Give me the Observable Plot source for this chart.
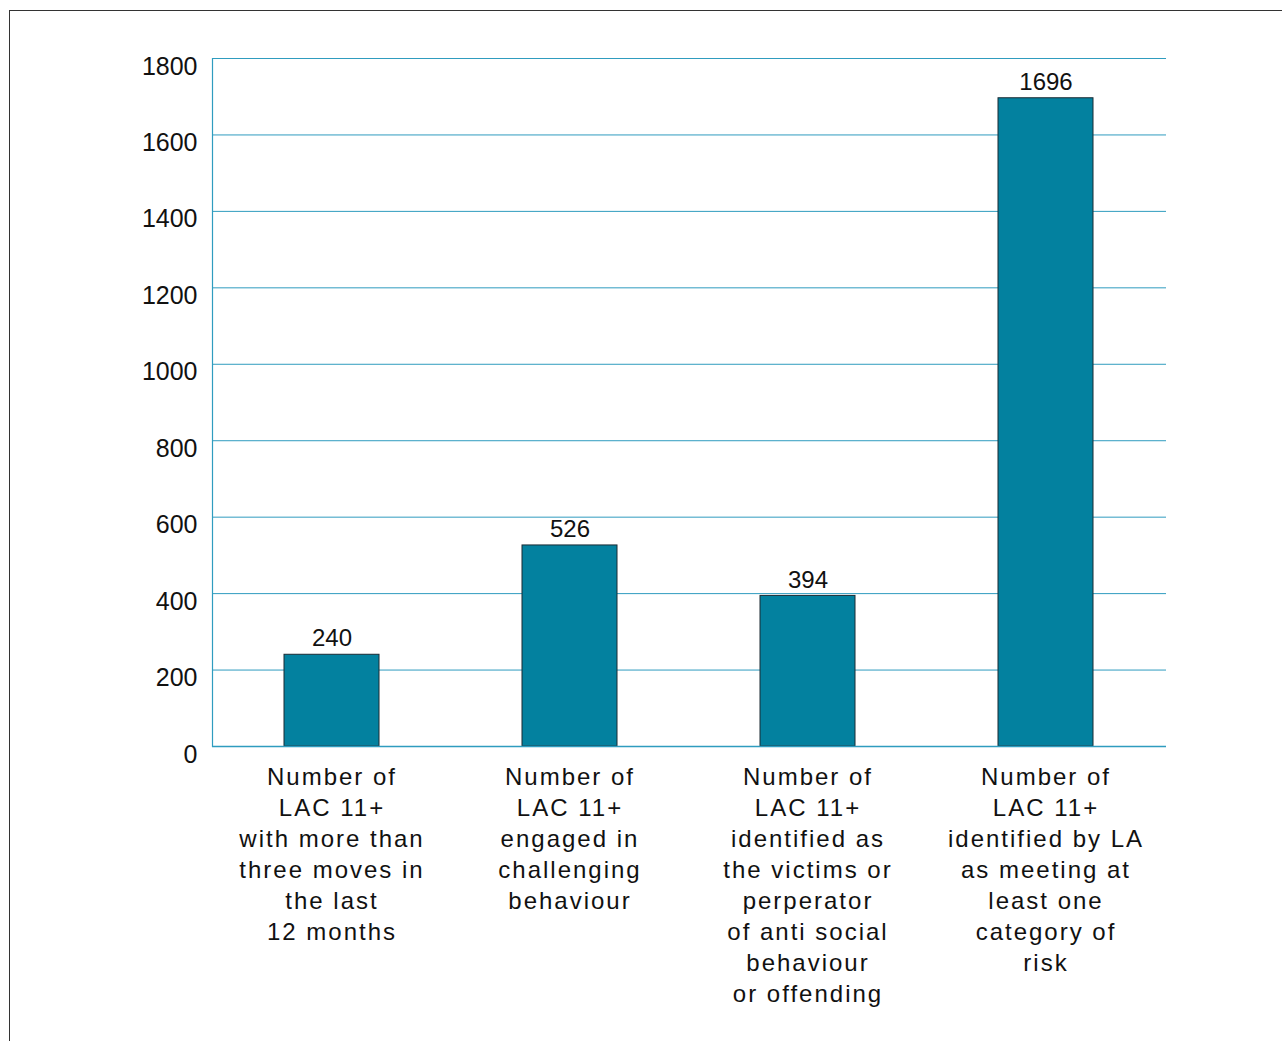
<!DOCTYPE html>
<html>
<head>
<meta charset="utf-8">
<script src="https://cdn.jsdelivr.net/npm/d3@7"></script>
<script src="https://cdn.jsdelivr.net/npm/@observablehq/plot@0.6"></script>
<style>
  html, body { margin: 0; padding: 0; background: #fff; }
  #wrap { position: relative; width: 1282px; height: 1041px; overflow: hidden; }
  #frame { position: absolute; left: 9px; top: 10px; right: -5px; bottom: -5px;
           border-top: 1.5px solid #333; border-left: 1.5px solid #333; }
  #chart { position: absolute; left: 0; top: 0; }
  g[aria-label="x-axis tick label"] text { letter-spacing: 2px; }
</style>
</head>
<body>
<div id="wrap"><div id="frame"></div><div id="chart"></div></div>
<script>
const categories = [
  "Number of\nLAC 11+\nwith more than\nthree moves in\nthe last\n12 months",
  "Number of\nLAC 11+\nengaged in\nchallenging\nbehaviour",
  "Number of\nLAC 11+\nidentified as\nthe victims or\nperperator\nof anti social\nbehaviour\nor offending",
  "Number of\nLAC 11+\nidentified by LA\nas meeting at\nleast one\ncategory of\nrisk"
];
const values = [240, 526, 394, 1696];
const yTicks = [0, 200, 400, 600, 800, 1000, 1200, 1400, 1600, 1800];

const data = categories.map((c, i) => ({category: c, value: values[i]}));
const teal = "#2f9cbf";

const chart = Plot.plot({
  width: 1282,
  height: 1041,
  marginLeft: 212,
  marginRight: 116,
  marginTop: 58,
  marginBottom: 295,
  style: {fontFamily: "'Liberation Sans', Arial, sans-serif", fontSize: "24px", color: "#111", background: "transparent"},
  x: {domain: categories, paddingInner: 0.6, paddingOuter: 0.3, label: null},
  y: {domain: [0, 1800], label: null},
  marks: [
    Plot.gridY(yTicks, {stroke: teal, strokeOpacity: 1, strokeWidth: 1}),
    Plot.frame({anchor: "left", stroke: teal, strokeWidth: 1.2}),
    Plot.axisY(yTicks, {tickSize: 0, tickPadding: 15, dy: 8, fontSize: 25, tickFormat: d3.format("d"), label: null, fill: "#111"}),
    Plot.axisX({tickSize: 0, tickPadding: 17, fontSize: 24, lineHeight: 1.29, label: null, fill: "#111"}),
    Plot.barY(data, {x: "category", y: "value", fill: "#03819f", stroke: "#1b2b33", strokeWidth: 1}),
    Plot.ruleY([0], {stroke: teal, strokeWidth: 1.5}),
    Plot.text(data, {x: "category", y: "value", text: d => String(d.value), dy: -16, fontSize: 24, fill: "#111"})
  ]
});
document.getElementById("chart").appendChild(chart);
</script>
</body>
</html>
